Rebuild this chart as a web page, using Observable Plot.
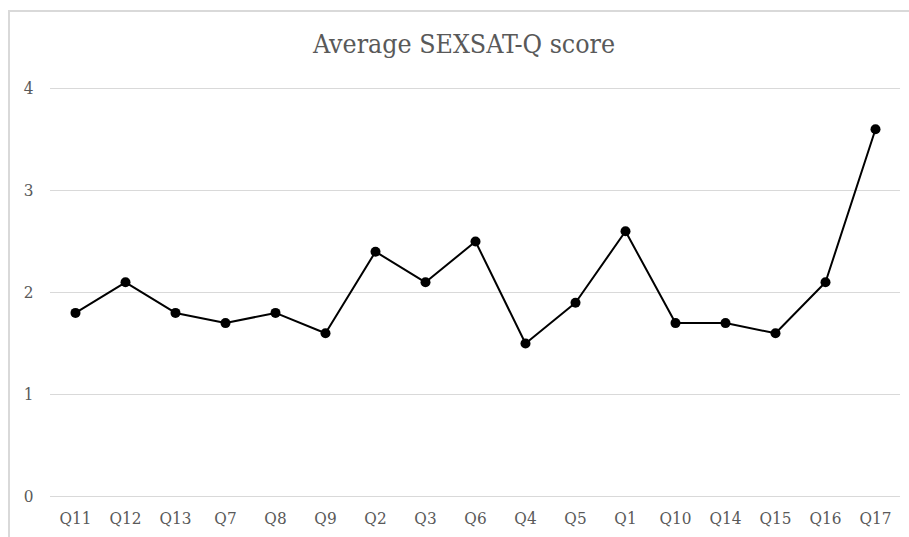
<!DOCTYPE html>
<html>
<head>
<meta charset="utf-8">
<script src="https://cdn.jsdelivr.net/npm/d3@7"></script>
<script src="https://cdn.jsdelivr.net/npm/@observablehq/plot@0.6"></script>
<style>
  html, body { margin: 0; padding: 0; background: #fff; }
  #wrap { position: relative; width: 909px; height: 537px; overflow: hidden; }
  #border { position: absolute; left: 8px; top: 10px; width: 920px; height: 560px;
            border: 2px solid #d9d9d9; box-sizing: border-box; }
  #title { position: absolute; left: 0; width: 928px; top: 28px; text-align: center;
           font-family: "DejaVu Serif Condensed", "DejaVu Serif", serif; font-stretch: condensed;
           font-size: 26.5px; color: #595959; }
  #chart { position: absolute; left: 0; top: 0; }
</style>
</head>
<body>
<div id="wrap">
  <div id="border"></div>
  <div id="chart"></div>
  <div id="title">Average SEXSAT-Q score</div>
</div>
<script>
const questions = ["Q11","Q12","Q13","Q7","Q8","Q9","Q2","Q3","Q6","Q4","Q5","Q1","Q10","Q14","Q15","Q16","Q17"];
const scores = [1.8, 2.1, 1.8, 1.7, 1.8, 1.6, 2.4, 2.1, 2.5, 1.5, 1.9, 2.6, 1.7, 1.7, 1.6, 2.1, 3.6];
const yTicks = [0, 1, 2, 3, 4];

const data = questions.map((q, i) => ({q, v: scores[i]}));

const chart = Plot.plot({
  width: 909,
  height: 537,
  marginLeft: 50,
  marginRight: 9,
  marginTop: 88,
  marginBottom: 41,
  style: {fontFamily: "'DejaVu Serif Condensed', 'DejaVu Serif', serif", fontStretch: "condensed", fontSize: "17px", color: "#595959", background: "transparent"},
  x: {type: "point", domain: questions, padding: 0.5, label: null},
  y: {domain: [0, 4], label: null},
  marks: [
    Plot.ruleY(yTicks, {stroke: "#d9d9d9", strokeWidth: 1}),
    Plot.axisY({ticks: yTicks, tickSize: 0, tickPadding: 17, tickFormat: d => String(d), label: null, fontSize: 17, fill: "#595959"}),
    Plot.axisX({tickSize: 0, tickPadding: 15, label: null, fontSize: 17, fill: "#595959"}),
    Plot.line(data, {x: "q", y: "v", stroke: "#000", strokeWidth: 2}),
    Plot.dot(data, {x: "q", y: "v", r: 5, fill: "#000", stroke: "none"})
  ]
});
document.getElementById("chart").appendChild(chart);
</script>
</body>
</html>
